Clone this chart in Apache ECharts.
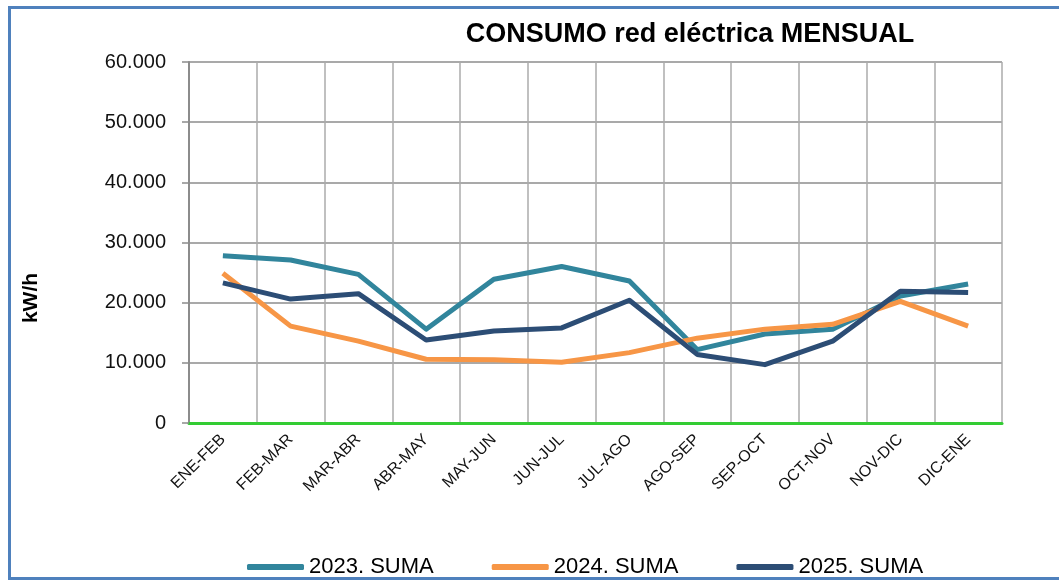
<!DOCTYPE html>
<html>
<head>
<meta charset="utf-8">
<script src="https://cdn.jsdelivr.net/npm/echarts@6/dist/echarts.min.js"></script>
<style>
  html, body { margin: 0; padding: 0; background: #fff; overflow: hidden; }
  #main { width: 1059px; height: 588px; }
</style>
</head>
<body>
<div id="main"></div>
<script>
// periodos (meses) del eje X
var periodos = ['ENE-FEB', 'FEB-MAR', 'MAR-ABR', 'ABR-MAY', 'MAY-JUN', 'JUN-JUL',
                'JUL-AGO', 'AGO-SEP', 'SEP-OCT', 'OCT-NOV', 'NOV-DIC', 'DIC-ENE'];

// consumo kW/h
var suma2023 = [27800, 27100, 24700, 15600, 23900, 26000, 23600, 12200, 14800, 15600, 21100, 23100];
var suma2024 = [24900, 16100, 13600, 10600, 10500, 10100, 11700, 14100, 15600, 16400, 20200, 16100];
var suma2025 = [23300, 20600, 21500, 13800, 15300, 15800, 20400, 11400, 9700, 13600, 21900, 21700];

var nombres = ['2023. SUMA', '2024. SUMA', '2025. SUMA'];
var colores = ['#31859C', '#F79646', '#2C4D75'];

function miles(v) {
    if (v === 0) return '0';
    return String(v).replace(/\B(?=(\d{3})+(?!\d))/g, '.');
}

var myChart = echarts.init(document.getElementById('main'));

var option = {
    animation: false,
    textStyle: { fontFamily: 'Liberation Sans, Arial, sans-serif' },
    graphic: [
        {
            type: 'rect',
            shape: { x: 9.5, y: 7.5, width: 1100, height: 571 },
            style: { fill: null, stroke: '#4F81BD', lineWidth: 3 }
        },
        {
            type: 'text',
            x: 690, y: 35,
            style: {
                text: 'CONSUMO red eléctrica MENSUAL',
                fontSize: 27, fontWeight: 'bold', fill: '#000',
                fontFamily: 'Liberation Sans, Arial, sans-serif',
                textAlign: 'center', textVerticalAlign: 'middle'
            }
        },
        {
            type: 'text',
            x: 31, y: 298,
            rotation: Math.PI / 2,
            style: {
                text: 'kW/h',
                fontSize: 21, fontWeight: 'bold', fill: '#000',
                fontFamily: 'Liberation Sans, Arial, sans-serif',
                textAlign: 'center', textVerticalAlign: 'middle'
            }
        }
    ],
    legend: {
        left: 242,
        top: 551,
        icon: 'roundRect',
        itemWidth: 57,
        itemHeight: 6,
        itemGap: 58,
        textStyle: { fontSize: 22, color: '#000' },
        data: nombres
    },
    grid: { left: 189, right: 57, top: 62, bottom: 165 },
    xAxis: {
        type: 'category',
        boundaryGap: true,
        data: periodos,
        axisLine: { lineStyle: { color: '#33CC33', width: 3 } },
        axisTick: { length: 4, lineStyle: { color: '#33CC33', width: 3 } },
        axisLabel: { rotate: 45, margin: 14, fontSize: 16, color: '#111' },
        splitLine: { show: true, lineStyle: { color: '#ababab', width: 1.5 } }
    },
    yAxis: {
        type: 'value',
        min: 0,
        max: 60000,
        interval: 10000,
        axisLine: { show: true, lineStyle: { color: '#8c8c8c', width: 2 } },
        axisTick: { show: true, length: 7, lineStyle: { color: '#8c8c8c', width: 1.5 } },
        axisLabel: { margin: 23, fontSize: 20, color: '#111', formatter: miles },
        splitLine: { lineStyle: { color: '#8c8c8c', width: 1.5 } }
    },
    series: [
        { name: nombres[0], type: 'line', data: suma2023, symbol: 'none',
          lineStyle: { width: 5, color: colores[0], join: 'round' }, itemStyle: { color: colores[0] } },
        { name: nombres[1], type: 'line', data: suma2024, symbol: 'none',
          lineStyle: { width: 5, color: colores[1], join: 'round' }, itemStyle: { color: colores[1] } },
        { name: nombres[2], type: 'line', data: suma2025, symbol: 'none',
          lineStyle: { width: 5, color: colores[2], join: 'round' }, itemStyle: { color: colores[2] } }
    ]
};

myChart.setOption(option);
</script>
</body>
</html>
